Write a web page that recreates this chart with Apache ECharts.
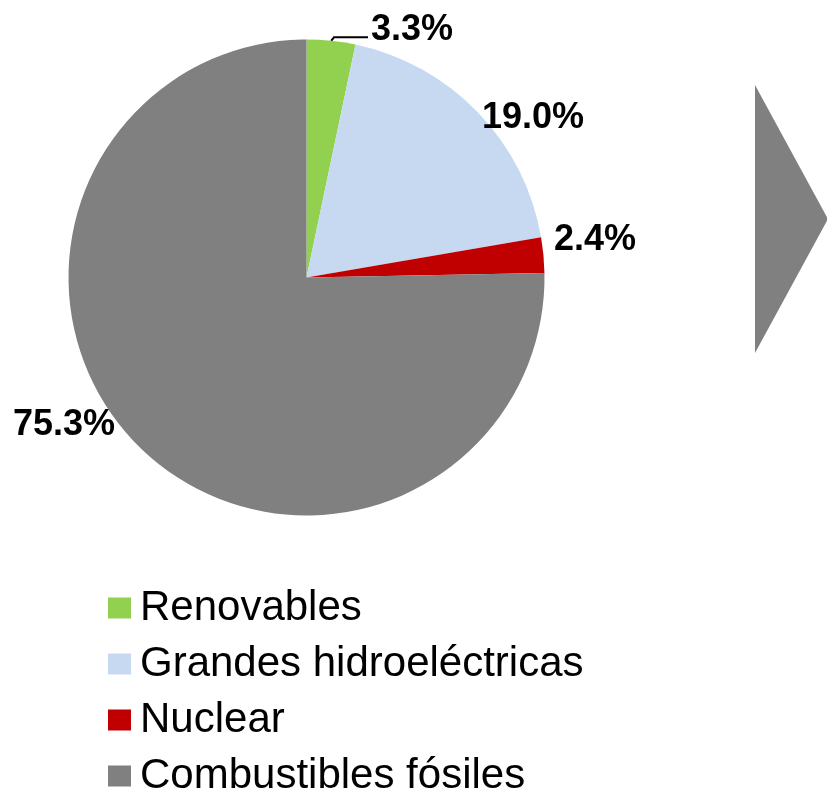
<!DOCTYPE html>
<html>
<head>
<meta charset="utf-8">
<script src="https://cdn.jsdelivr.net/npm/echarts@6/dist/echarts.min.js"></script>
<style>
html,body{margin:0;padding:0;background:#fff;}
#chart{width:827px;height:794px;}
</style>
</head>
<body>
<div id="chart"></div>
<script>
const categories = ['Renovables', 'Grandes hidroeléctricas', 'Nuclear', 'Combustibles fósiles'];
const shares = [3.3, 19.0, 2.4, 75.3];
const colors = ['#92D050', '#C6D9F1', '#C00000', '#808080'];

// label anchor points (layout only)
const labelSpots = [
  { x: 368, y: 73, align: 'left', verticalAlign: 'bottom' },
  { x: 482, y: 136, align: 'left', verticalAlign: 'bottom' },
  { x: 554, y: 258, align: 'left', verticalAlign: 'bottom' },
  { x: 115, y: 443, align: 'right', verticalAlign: 'bottom' }
];

const chart = echarts.init(document.getElementById('chart'), null, { renderer: 'canvas' });

const data = categories.map((name, i) => ({
  name: name,
  value: shares[i],
  itemStyle: { color: colors[i] },
  labelLine: { show: i === 0 }
}));

const labelFont = {
  fontFamily: 'Liberation Sans, Arial, sans-serif',
  fontWeight: 'bold',
  fontSize: 36,
  color: '#000'
};

chart.setOption({
  animation: false,
  backgroundColor: '#ffffff',
  legend: {
    orient: 'vertical',
    left: 108,
    top: 587,
    height: 220,
    padding: 0,
    itemWidth: 23,
    itemHeight: 21,
    itemGap: 14,
    icon: 'rect',
    data: categories,
    textStyle: {
      fontFamily: 'Liberation Sans, Arial, sans-serif',
      fontSize: 42,
      color: '#000',
      lineHeight: 42,
      padding: [0, 0, 0, 4]
    }
  },
  graphic: [{
    type: 'polygon',
    shape: { points: [[755, 85], [828, 219], [755, 353]] },
    style: { fill: '#808080' },
    silent: true
  }],
  series: [{
    type: 'pie',
    center: [306.5, 277.5],
    radius: 238,
    startAngle: 90,
    clockwise: true,
    data: data,
    label: {
      show: true,
      position: 'outside',
      overflow: 'none',
      formatter: (p) => p.dataIndex === 0
        ? '{p|' + p.value.toFixed(1) + '%}\n{g| }'
        : '{v|' + p.value.toFixed(1) + '%}',
      rich: {
        v: Object.assign({}, labelFont),
        p: Object.assign({ padding: [0, 0, 0, 3] }, labelFont),
        g: { fontSize: 4, height: 25 }
      },
      ...labelFont
    },
    labelLine: {
      length: 2,
      length2: 34,
      lineStyle: { color: '#000', width: 2 }
    },
    labelLayout: (params) => {
      const s = labelSpots[params.dataIndex];
      return { x: s.x, y: s.y, align: s.align, verticalAlign: s.verticalAlign };
    },
    emphasis: { disabled: true }
  }]
});
</script>
</body>
</html>
